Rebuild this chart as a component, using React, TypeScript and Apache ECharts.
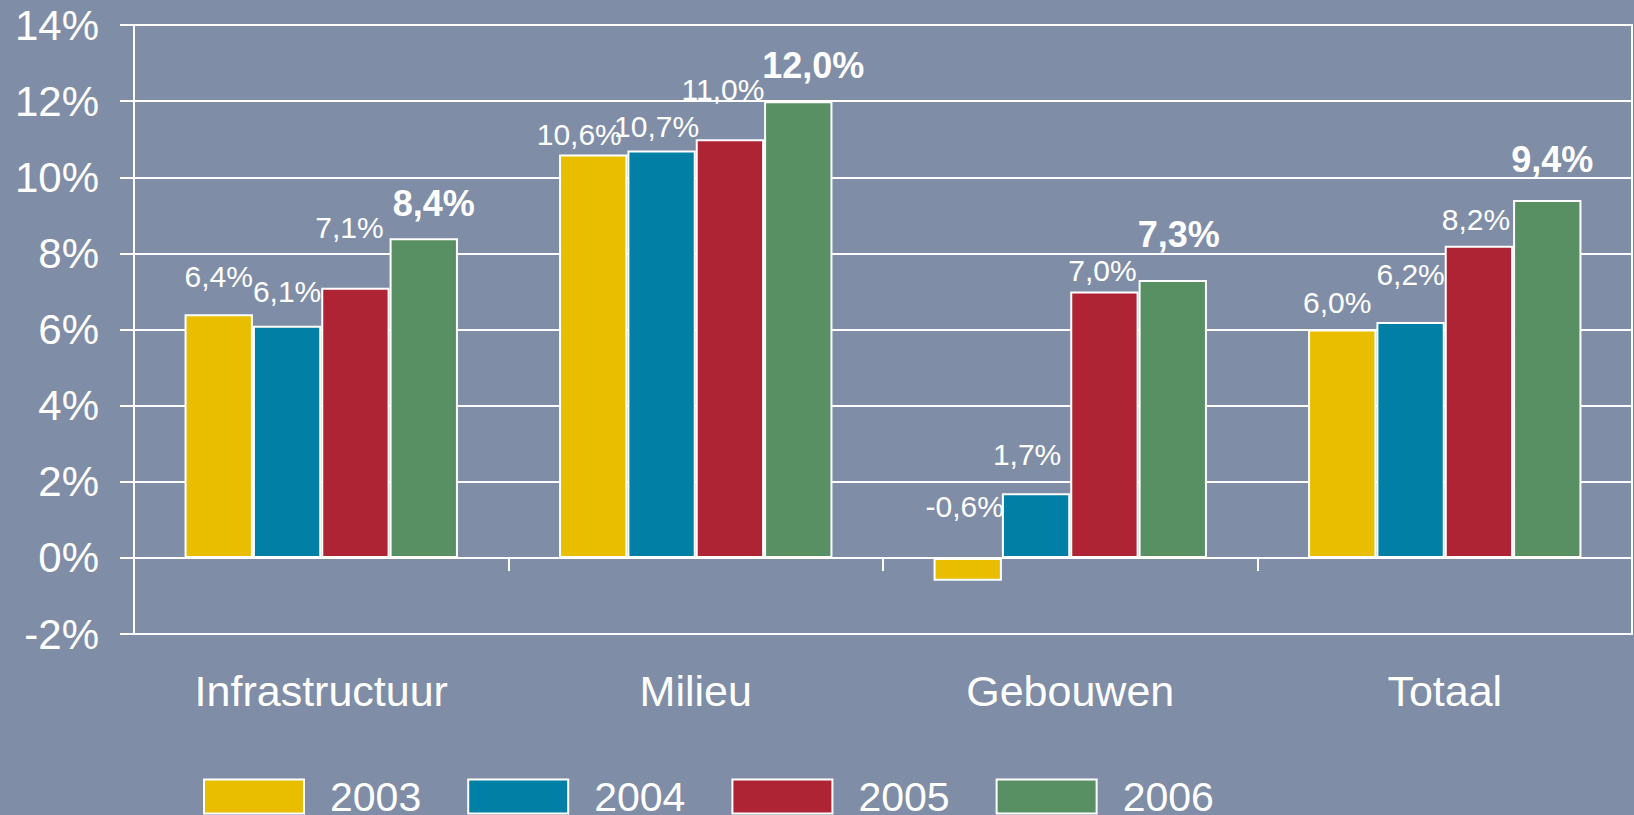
import React, { useEffect, useRef } from 'react';
import * as echarts from 'echarts';

const categories = ['Infrastructuur', 'Milieu', 'Gebouwen', 'Totaal'];
const years = ['2003', '2004', '2005', '2006'];
const values2003 = [6.4, 10.6, -0.6, 6.0];
const values2004 = [6.1, 10.7, 1.7, 6.2];
const values2005 = [7.1, 11.0, 7.0, 8.2];
const values2006 = [8.4, 12.0, 7.3, 9.4];
const seriesValues = [values2003, values2004, values2005, values2006];
const colors = ['#E9BE00', '#027FA4', '#AF2434', '#588F63'];

// label placement (style only, per series/category)
const labelDx = [
  [0, -14, -3, -5],
  [0, -5, -9, 0],
  [-6, -7, -2, -3],
  [10, 15, 6, 5],
];
const labelDist = [
  [23, 5, 36, 12],
  [19, 9, 24, 32],
  [45, 35, 6, 11],
  [17, 18, 28, 23],
];

const FONT = '"Liberation Sans", Arial, sans-serif';
const BG = '#7F8EA6';

function fmt(v: number) {
  return v.toFixed(1).replace('.', ',') + '%';
}

export default function App() {
  const ref = useRef<HTMLDivElement>(null);
  useEffect(() => {
    document.body.style.margin = '0';
    const chart = echarts.init(ref.current!, undefined, { renderer: 'svg' });
    const series = seriesValues.map((vals, si) => ({
      name: years[si],
      type: 'bar',
      xAxisIndex: 0,
      barGap: '0%',
      barCategoryGap: '27%',
      itemStyle: { color: colors[si], borderColor: '#ffffff', borderWidth: 2 },
      data: vals.map((v, ci) => ({
        value: v,
        label: {
          show: true,
          position: 'top',
          distance: labelDist[si][ci],
          offset: [labelDx[si][ci], 0],
          formatter: () => fmt(v),
          color: '#ffffff',
          fontFamily: FONT,
          fontSize: si === 3 ? 36 : 30,
          fontWeight: si === 3 ? 'bold' : 'normal',
        },
      })),
    }));
    chart.setOption({
      animation: false,
      backgroundColor: BG,
      textStyle: { fontFamily: FONT },
      grid: {
        left: 134,
        right: 2,
        top: 25,
        bottom: 181,
        show: true,
        borderColor: '#ffffff',
        borderWidth: 2,
        backgroundColor: 'transparent',
      },
      legend: {
        left: 198,
        top: 771,
        itemWidth: 100,
        itemHeight: 34,
        itemGap: 46,
        icon: 'rect',
        data: years,
        textStyle: {
          color: '#ffffff',
          fontSize: 41,
          fontFamily: FONT,
          padding: [0, 0, 0, 21],
        },
      },
      xAxis: [
        {
          type: 'category',
          data: categories,
          axisLine: { show: true, onZero: true, lineStyle: { color: '#ffffff', width: 2 } },
          axisTick: { show: true, inside: false, length: 13, lineStyle: { color: '#ffffff', width: 2 } },
          axisLabel: { show: false },
        },
        {
          type: 'category',
          data: categories,
          position: 'bottom',
          axisLine: { show: false, onZero: false },
          axisTick: { show: false },
          axisLabel: {
            show: true,
            margin: 35,
            color: '#ffffff',
            fontSize: 43,
            fontFamily: FONT,
          },
        },
      ],
      yAxis: {
        type: 'value',
        min: -2,
        max: 14,
        interval: 2,
        axisLine: { show: true, lineStyle: { color: '#ffffff', width: 2 } },
        axisTick: { show: true, inside: false, length: 14, lineStyle: { color: '#ffffff', width: 2 } },
        axisLabel: {
          margin: 35,
          color: '#ffffff',
          fontSize: 42,
          fontFamily: FONT,
          formatter: (v: number) => `${v}%`,
        },
        splitLine: { show: true, lineStyle: { color: '#ffffff', width: 2 } },
      },
      series,
    });
    return () => chart.dispose();
  }, []);
  return <div ref={ref} style={{ width: 1634, height: 815 }} />;
}
